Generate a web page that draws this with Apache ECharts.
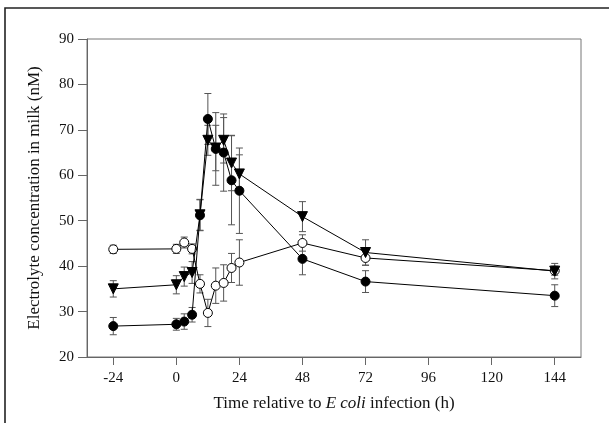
<!DOCTYPE html>
<html>
<head>
<meta charset="utf-8">
<script src="https://cdn.jsdelivr.net/npm/echarts@6/dist/echarts.min.js"></script>
<style>
  html, body { margin: 0; padding: 0; background: #fff; }
  #chart { width: 609px; height: 423px; }
</style>
</head>
<body>
<div id="chart"></div>
<script>
// hours relative to infection
const hours = [-24, 0, 3, 6, 9, 12, 15, 18, 21, 24, 48, 72, 144];

// filled circles
const filledMean = [26.8, 27.2, 27.8, 29.3, 51.2, 72.4, 65.8, 65.0, 58.9, 56.6, 41.6, 36.6, 33.5];
const filledErr = [1.9, 1.3, 1.7, 1.6, 3.4, 5.6, 8.0, 8.5, 9.8, 9.4, 3.5, 2.4, 2.4];

// filled down-triangles
const triMean = [35.0, 35.9, 37.7, 38.6, 51.3, 67.7, 66.0, 67.7, 62.7, 60.3, 50.9, 43.0, 38.9];
const triErr = [1.8, 2.0, 2.1, 2.4, 3.4, 3.3, 5.0, 5.0, 6.1, 4.2, 3.3, 2.8, 1.7];

// open circles
const openMean = [43.7, 43.8, 45.2, 43.8, 36.1, 29.7, 35.7, 36.3, 39.6, 40.8, 45.1, 41.8, 39.0];
const openErr = [0.9, 1.0, 1.2, 1.1, 2.0, 3.0, 3.9, 4.0, 3.2, 5.0, 1.8, 1.6, 1.0];

const xTicks = [-24, 0, 24, 48, 72, 96, 120, 144];

const font = 'Liberation Serif, Times New Roman, serif';
const axisGrey = '#666';
const barGrey = '#555';

function errorSeries(means, errs) {
  return {
    type: 'custom',
    z: 1,
    silent: true,
    encode: { x: 0, y: [1, 2] },
    data: hours.map((h, i) => [h, means[i] - errs[i], means[i] + errs[i]]),
    renderItem(params, api) {
      const x = api.value(0);
      const lo = api.coord([x, api.value(1)]);
      const hi = api.coord([x, api.value(2)]);
      const w = 3.5;
      const st = { stroke: barGrey, lineWidth: 1 };
      return {
        type: 'group',
        children: [
          { type: 'line', shape: { x1: lo[0], y1: lo[1], x2: hi[0], y2: hi[1] }, style: st },
          { type: 'line', shape: { x1: hi[0] - w, y1: hi[1], x2: hi[0] + w, y2: hi[1] }, style: st },
          { type: 'line', shape: { x1: lo[0] - w, y1: lo[1], x2: lo[0] + w, y2: lo[1] }, style: st }
        ]
      };
    }
  };
}

function lineSeries(means, symbol, fill, size, rotate, z) {
  return {
    type: 'line',
    z: z,
    data: hours.map((h, i) => [h, means[i]]),
    symbol: symbol,
    symbolSize: size,
    symbolRotate: rotate,
    showAllSymbol: true,
    lineStyle: { color: '#000', width: 1 },
    itemStyle: { color: fill, borderColor: '#000', borderWidth: 1 }
  };
}

const chart = echarts.init(document.getElementById('chart'));
chart.setOption({
  animation: false,
  backgroundColor: '#fff',
  grid: {
    left: 87, top: 39, width: 494, height: 318,
    show: true, borderColor: '#777', borderWidth: 1, backgroundColor: 'transparent'
  },
  graphic: [{
    type: 'rect',
    shape: { x: 5, y: 8, width: 640, height: 450 },
    style: { fill: 'none', stroke: '#222', lineWidth: 1.6 },
    silent: true
  }],
  xAxis: {
    type: 'value',
    min: -34,
    max: 154,
    splitLine: { show: false },
    axisLine: { onZero: false, lineStyle: { color: axisGrey } },
    axisTick: { customValues: xTicks, length: 8, lineStyle: { color: axisGrey } },
    axisLabel: { customValues: xTicks, color: '#111', fontFamily: font, fontSize: 15, margin: 14 },
    name: '{a|Time relative to }{i|E coli}{a| infection (h)}',
    nameLocation: 'middle',
    nameGap: 38,
    nameTextStyle: {
      rich: {
        a: { fontFamily: font, fontSize: 17, color: '#111' },
        i: { fontFamily: font, fontSize: 17, fontStyle: 'italic', color: '#111' }
      }
    }
  },
  yAxis: {
    type: 'value',
    min: 20,
    max: 90,
    interval: 10,
    splitLine: { show: false },
    axisLine: { show: true, onZero: false, lineStyle: { color: axisGrey } },
    axisTick: { show: true, length: 9, lineStyle: { color: axisGrey } },
    axisLabel: { color: '#111', fontFamily: font, fontSize: 15, margin: 13 },
    name: 'Electrolyte concentration in milk (nM)',
    nameLocation: 'middle',
    nameGap: 44,
    nameTextStyle: { fontFamily: font, fontSize: 17, color: '#111' }
  },
  series: [
    errorSeries(filledMean, filledErr),
    errorSeries(triMean, triErr),
    errorSeries(openMean, openErr),
    lineSeries(openMean, 'circle', '#fff', 9, 0, 3),
    lineSeries(triMean, 'triangle', '#000', 10, 180, 4),
    lineSeries(filledMean, 'circle', '#000', 9, 0, 5)
  ]
});
</script>
</body>
</html>
